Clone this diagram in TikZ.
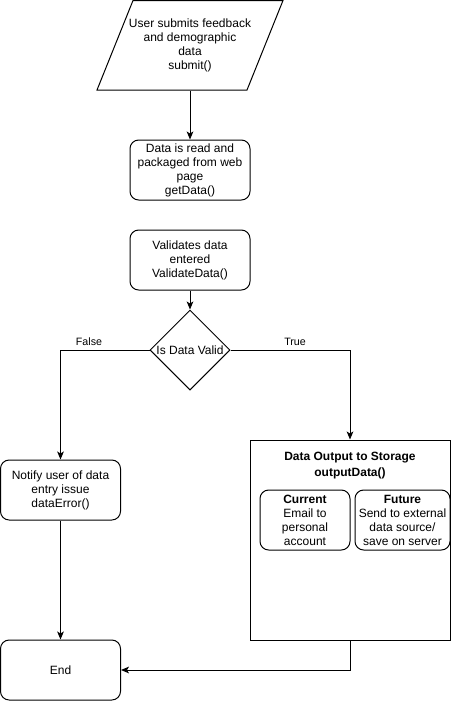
\documentclass[tikz,border=0pt]{standalone}
\usepackage{fontspec}
\setmainfont{Liberation Sans}
\usetikzlibrary{shapes.geometric,arrows.meta}

\begin{document}
\begin{tikzpicture}[x=0.75pt, y=-0.75pt, line width=0.75pt,
  every node/.style={font=\fontsize{9}{10.5}\selectfont, align=center, inner sep=1pt},
  proc/.style={draw, rounded corners=6.5pt, minimum width=90pt, minimum height=45pt},
  sub/.style={draw, rounded corners=6.5pt, minimum height=45pt},
  decide/.style={draw, diamond, minimum width=60pt, minimum height=60pt, inner sep=0pt},
  arr/.style={-{Stealth[length=6pt, width=5pt, inset=1.5pt]}},
  lbl/.style={font=\fontsize{8}{9}\selectfont, above=2pt}]
  \useasboundingbox (0,0) rectangle (451,701);
  \draw (133,0.5) -- (283,0.5) -- (247,90) -- (97,90) -- cycle;
  \node[minimum width=112.5pt, minimum height=67.5pt] (in) at (190,45) {User submits feedback\\and demographic\\data\\submit()};
  \node[proc] (get) at (190,170) {Data is read and\\packaged from web\\page\\getData()};
  \node[proc] (valid) at (190,260) {Validates data\\entered\\ValidateData()};
  \node[decide, label={center:Is Data Valid}] (dec) at (190,350) {};
  \node[proc] (err) at (60.5,490) {Notify user of data\\entry issue\\dataError()};
  \node[proc] (end) at (60.5,670) {End};
  \node[draw, minimum width=150pt, minimum height=150pt] (out) at (350,540) {};
  \node[font=\fontsize{9}{12.5}\selectfont\bfseries] (outt) at (350,465.5) {Data Output to Storage\\outputData()};
  \node[sub, minimum width=67.5pt] (cur) at (305,520) {\textbf{Current}\\Email to\\personal\\account};
  \node[sub, minimum width=71.25pt] (fut) at (402.5,520) {\textbf{Future}\\Send to external\\data source/\\save on server};
  \foreach \a/\b in {in/get, valid/dec, err/end}
    \draw[arr] (\a) -- (\b);
  \draw[arr] (dec.west) -| node[lbl, pos=0.34] {False} (err.north);
  \draw[arr] (dec.east) -| node[lbl, pos=0.27] {True} (out.north);
  \draw[arr] (out.south) |- (end.east);
\end{tikzpicture}
\end{document}
